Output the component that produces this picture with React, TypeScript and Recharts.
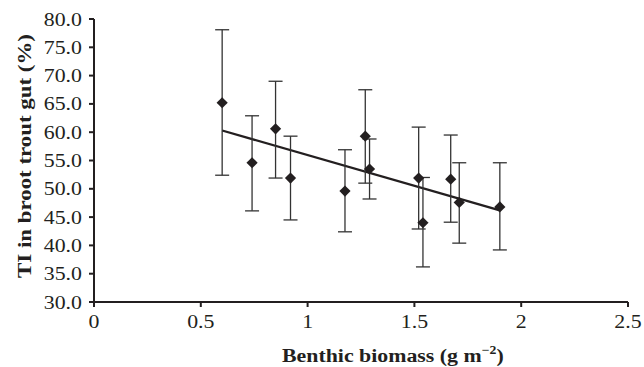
import {
  ComposedChart,
  Scatter,
  Line,
  XAxis,
  YAxis,
  ErrorBar,
  Label,
} from "recharts";

// benthic biomass (g m-2) per site
const biomass = [0.6, 0.74, 0.85, 0.92, 1.175, 1.27, 1.29, 1.52, 1.54, 1.67, 1.71, 1.9];
// TI in brook trout gut (%) – mean, upper and lower whisker
const tiMean = [65.2, 54.6, 60.6, 51.9, 49.6, 59.3, 53.5, 51.9, 44.0, 51.7, 47.6, 46.8];
const tiUpper = [78.1, 62.9, 69.0, 59.3, 56.9, 67.5, 58.8, 60.9, 52.0, 59.5, 54.6, 54.6];
const tiLower = [52.4, 46.1, 51.9, 44.5, 42.4, 51.0, 48.2, 42.9, 36.2, 44.1, 40.4, 39.2];

// linear trend, start and end
const trendX = [0.6, 1.9];
const trendY = [60.3, 46.2];

const xTicks = [0, 0.5, 1, 1.5, 2, 2.5];
const yTicks = [30, 35, 40, 45, 50, 55, 60, 65, 70, 75, 80];

const FONT = '"Liberation Serif", "Times New Roman", serif';
const INK = "#231f20";
const STRETCH = 1.15; // the original type is set a little wide

const points = biomass.map((x, i) => ({
  x,
  y: tiMean[i],
  err: [tiMean[i] - tiLower[i], tiUpper[i] - tiMean[i]],
}));

const trend = trendX.map((x, i) => ({ x, y: trendY[i] }));

const XTick = ({ x, y, payload }: any) => (
  <g transform={`translate(${x},${y}) scale(${STRETCH},1)`}>
    <text x={0} y={14} textAnchor="middle" fontFamily={FONT} fontSize={19} fill={INK}>
      {String(payload.value)}
    </text>
  </g>
);

const YTick = ({ x, y, payload }: any) => (
  <g transform={`translate(${x},${y}) scale(${STRETCH},1)`}>
    <text x={0} y={6.5} textAnchor="end" fontFamily={FONT} fontSize={19} fill={INK}>
      {Number(payload.value).toFixed(1)}
    </text>
  </g>
);

const XLabel = () => (
  <g transform={`translate(282,362) scale(${STRETCH},1)`}>
    <text x={0} y={0} fontFamily={FONT} fontWeight="bold" fontSize={19} fill={INK}>
      Benthic biomass (g m
      <tspan fontSize={12} dy={-8}>
        −2
      </tspan>
      <tspan dy={8}>)</tspan>
    </text>
  </g>
);

const YLabel = () => (
  <g transform="translate(31,156) rotate(-90)">
    <text
      x={0}
      y={0}
      textAnchor="middle"
      fontFamily={FONT}
      fontWeight="bold"
      fontSize={19}
      fill={INK}
      textLength={244}
      lengthAdjust="spacingAndGlyphs"
    >
      TI in broot trout gut (%)
    </text>
  </g>
);

const Diamond = ({ cx, cy }: any) => {
  const r = 5.6;
  return (
    <polygon
      points={`${cx},${cy - r} ${cx + r},${cy} ${cx},${cy + r} ${cx - r},${cy}`}
      fill={INK}
    />
  );
};

const App = () => {
  return (
    <div style={{ position: "absolute", left: 0, top: 0, background: "#fff" }}>
      <ComposedChart
        width={644}
        height={367}
        margin={{ top: 19, right: 16, bottom: 0, left: 0 }}
      >
        <XAxis
          type="number"
          dataKey="x"
          domain={[0, 2.5]}
          ticks={xTicks}
          allowDataOverflow
          height={65}
          stroke={INK}
          strokeWidth={2}
          tickSize={5}
          tickMargin={7}
          tick={<XTick />}
        >
          <Label content={<XLabel />} />
        </XAxis>
        <YAxis
          type="number"
          dataKey="y"
          domain={[30, 80]}
          ticks={yTicks}
          allowDataOverflow
          width={94}
          stroke={INK}
          strokeWidth={2}
          tickSize={5}
          tickMargin={7}
          tick={<YTick />}
        >
          <Label content={<YLabel />} />
        </YAxis>
        <Line
          data={trend}
          dataKey="y"
          type="linear"
          stroke={INK}
          strokeWidth={2.3}
          dot={false}
          activeDot={false}
          isAnimationActive={false}
        />
        <Scatter
          data={points}
          dataKey="y"
          fill={INK}
          shape={<Diamond />}
          isAnimationActive={false}
        >
          <ErrorBar
            dataKey="err"
            direction="y"
            width={7}
            stroke="#333"
            strokeWidth={1.3}
            isAnimationActive={false}
          />
        </Scatter>
      </ComposedChart>
    </div>
  );
};

export default App;
